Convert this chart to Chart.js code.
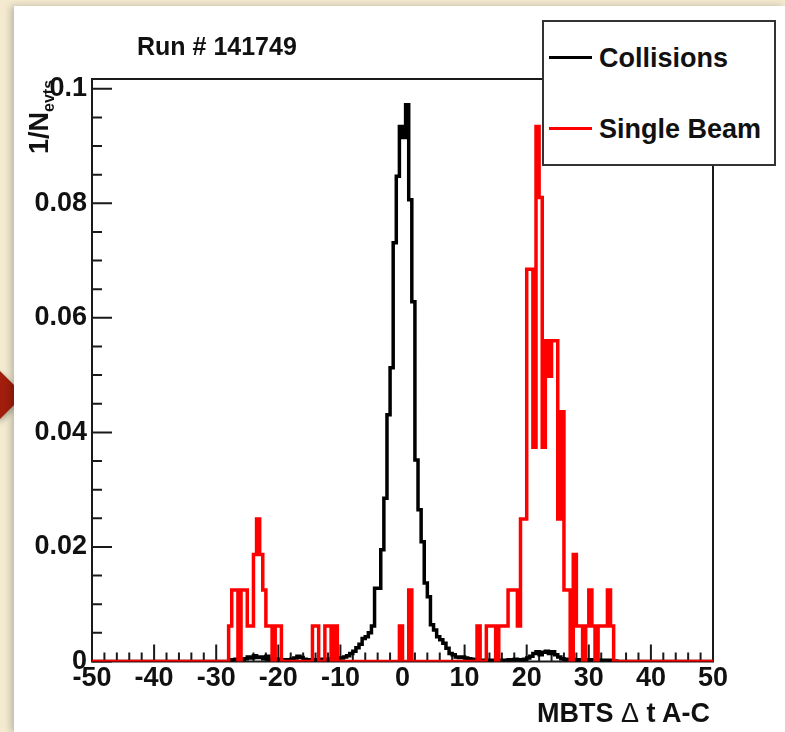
<!DOCTYPE html>
<html>
<head>
<meta charset="utf-8">
<script src="https://cdn.jsdelivr.net/npm/chart.js@4.4.1/dist/chart.umd.min.js"></script>
<style>
  html, body { margin: 0; padding: 0; }
  body {
    width: 785px; height: 732px; overflow: hidden; position: relative;
    background: #f3ead0;
    font-family: "Liberation Sans", Arial, Helvetica, sans-serif;
    font-weight: bold; color: #111;
  }
  #arrow {
    position: absolute; left: -17px; top: 378px; width: 34px; height: 34px;
    background: #a11d0c; transform: rotate(45deg);
    box-shadow: 2px 2px 6px rgba(0,0,0,0.35);
  }
  #panel {
    position: absolute; left: 14px; top: 6px; width: 771px; height: 726px;
    background: #fff; box-shadow: -3px 0 7px rgba(0,0,0,0.22);
  }
  #chart { position: absolute; left: 0; top: 0; }
  .txt { position: absolute; white-space: nowrap; line-height: 27px; }
  #title { left: 137px; top: 34px; font-size: 25px; line-height: 25px; }
  #xtitle { right: 75px; top: 700px; font-size: 27px; }
  #xtitle .sym { font-weight: normal; }
  #ytitle {
    left: 26px; top: 154px; font-size: 27px;
    transform: rotate(-90deg); transform-origin: left top;
  }
  #ytitle sub { font-size: 16px; vertical-align: -6px; }
  #legend {
    position: absolute; left: 542px; top: 20px; width: 230px; height: 142px;
    border: 2px solid #333; background: #fff;
  }
  .lline { position: absolute; left: 5px; width: 43px; height: 3px; }
  .ltext { position: absolute; left: 55px; font-size: 27px; line-height: 27px; }
</style>
</head>
<body>
<div id="arrow"></div>
<div id="panel"></div>
<canvas id="chart" width="785" height="732"></canvas>
<div class="txt" id="title">Run # 141749</div>
<div class="txt" id="ytitle">1/N<sub>evts</sub></div>
<div class="txt" id="xtitle">MBTS <span class="sym">&Delta;</span> t A-C</div>
<div id="legend">
  <div class="lline" style="top:34px;background:#000"></div>
  <div class="ltext" style="top:23px">Collisions</div>
  <div class="lline" style="top:105px;background:#ff0000"></div>
  <div class="ltext" style="top:94px">Single Beam</div>
</div>
<script>
// histogram binning: 200 bins of 0.5 from -50 to 50
const binLow = -50;
const binWidth = 0.5;

// 1/N_evts per bin, Collisions (rows of 20 bins = 10 units)
const collisions = [
  0,0,0,0,0,0,0,0,0,0,0,0,0,0,0,0,0,0,0,0,                                   // -50..-40
  0,0,0,0,0,0,0,0,0,0,0,0,0,0,0,0,0,0,0,0,                                   // -40..-30
  0,0,0,0,0,0.0003,0.0004,0.0002,0.0003,0.0005,0.0008,0.0006,0.001,0.0007,0.0008,0.0005,0.0009,0.0004,0.0003,0.0004,
  0.0003,0.0002,0.0003,0.0002,0.0004,0.0006,0.0009,0.0007,0.0004,0.0003,0.0002,0.0003,0.0002,0.0003,0.0004,0.0003,0.0004,0.0005,0.0004,0.0006,
  0.0006,0.0008,0.0010,0.0014,0.0018,0.0024,0.0030,0.0040,0.0043,0.0050,0.0062,0.0128,0.0128,0.0195,0.0285,0.0431,0.0513,0.0731,0.0847,0.0934,
  0.0915,0.0972,0.0806,0.0628,0.0352,0.0265,0.0209,0.0137,0.0113,0.0064,0.0055,0.0043,0.0038,0.0032,0.0023,0.0014,0.0012,0.0008,0.0007,0.0008,
  0.0006,0.0005,0.0004,0.0003,0.0002,0.0002,0.0001,0.0002,0.0001,0.0002,0.0001,0.0002,0.0001,0.0002,0.0003,0.0002,0.0004,0.0003,0.0002,0.0004,
  0.0006,0.0009,0.0014,0.0017,0.0012,0.0016,0.0018,0.0014,0.0017,0.0012,0.0008,0.0005,0.0004,0.0003,0.0002,0.0003,0.0002,0.0003,0.0002,0.0002,
  0.0003,0.0002,0.0002,0.0001,0.0002,0.0001,0.0002,0.0001,0.0001,0,0,0,0,0,0,0,0,0,0,0,
  0,0,0,0,0,0,0,0,0,0,0,0,0,0,0,0,0,0,0,0                                    // 40..50
];

// 1/N_evts per bin, Single Beam
const singleBeam = [
  0,0,0,0,0,0,0,0,0,0,0,0,0,0,0,0,0,0,0,0,
  0,0,0,0,0,0,0,0,0,0,0,0,0,0,0,0,0,0,0,0,
  0,0,0,0,0.0062,0.0125,0.0125,0,0.0125,0.0125,0.0062,0.0062,0.0187,0.0249,0.0187,0.0125,0.0062,0.0062,0,0.0062,
  0.0062,0,0,0,0,0,0,0,0,0,0,0.0062,0.0062,0,0,0.0062,0.0062,0,0.0062,0,
  0,0,0,0,0,0,0,0,0,0,0,0,0,0,0,0,0,0,0,0.0062,
  0,0,0.0125,0,0,0,0,0,0,0,0,0,0,0,0,0,0,0,0,0,
  0,0,0,0,0.0062,0,0,0.0062,0.0062,0.0062,0,0.0062,0.0062,0.0062,0.0125,0.0125,0.0125,0.0062,0.0249,0.0249,
  0.0685,0.0685,0.0374,0.0934,0.081,0.0374,0.056,0.0498,0.056,0.056,0.0249,0.0436,0.0125,0.0125,0,0.0187,0.0062,0.0062,0,0.0062,
  0.0125,0.0062,0,0.0062,0.0062,0.0062,0.0125,0.0062,0,0,0,0,0,0,0,0,0,0,0,0,
  0,0,0,0,0,0,0,0,0,0,0,0,0,0,0,0,0,0,0,0
];

const xTicks = [-50, -40, -30, -20, -10, 0, 10, 20, 30, 40, 50];
const yTicks = [0, 0.02, 0.04, 0.06, 0.08, 0.1];
const yTickLabels = ['0', '0.02', '0.04', '0.06', '0.08', '0.1'];
const yMax = 0.1017;

function toSteps(vals) {
  const pts = vals.map((v, i) => ({ x: binLow + i * binWidth, y: v }));
  pts.push({ x: binLow + vals.length * binWidth, y: vals[vals.length - 1] });
  return pts;
}

// frame and inside ticks, ROOT style
const framePlugin = {
  id: 'frame',
  beforeDatasetsDraw(chart) {
    const { ctx, chartArea: a, scales: { x, y } } = chart;
    ctx.save();
    ctx.strokeStyle = '#1a1a1a';
    ctx.lineWidth = 2;
    ctx.strokeRect(a.left, a.top, a.right - a.left, a.bottom - a.top);
    ctx.beginPath();
    for (let v = -50; v <= 50; v += 2) {
      const px = x.getPixelForValue(v);
      const len = v % 10 === 0 ? 17 : 9;
      ctx.moveTo(px, a.bottom);
      ctx.lineTo(px, a.bottom - len);
    }
    for (let k = 0; k <= 20; k++) {
      const v = k * 0.005;
      const py = y.getPixelForValue(v);
      const len = k % 4 === 0 ? 20 : 10;
      ctx.moveTo(a.left, py);
      ctx.lineTo(a.left + len, py);
    }
    ctx.stroke();
    ctx.restore();
  }
};

const tickFont = { family: '"Liberation Sans", Arial, sans-serif', size: 27, weight: 'bold' };

new Chart(document.getElementById('chart'), {
  type: 'line',
  data: {
    datasets: [
      {
        label: 'Collisions',
        data: toSteps(collisions),
        borderColor: '#000000',
        borderWidth: 3.5,
        stepped: true,
        pointRadius: 0,
        fill: false,
        order: 1
      },
      {
        label: 'Single Beam',
        data: toSteps(singleBeam),
        borderColor: '#ff0000',
        borderWidth: 3.5,
        stepped: true,
        pointRadius: 0,
        fill: false,
        order: 0
      }
    ]
  },
  options: {
    responsive: false,
    animation: false,
    devicePixelRatio: 1,
    layout: { padding: { left: 0, top: 79, right: 72, bottom: 0 } },
    plugins: {
      legend: { display: false },
      tooltip: { enabled: false }
    },
    scales: {
      x: {
        type: 'linear',
        min: -50,
        max: 50,
        grid: { display: false, drawTicks: false, tickLength: 0 },
        border: { display: false },
        afterFit: (s) => { s.height = 70.5; },
        afterBuildTicks: (s) => { s.ticks = xTicks.map(v => ({ value: v })); },
        ticks: { font: tickFont, color: '#111', padding: 1, maxRotation: 0, autoSkip: false,
                 callback: (v) => String(v) }
      },
      y: {
        type: 'linear',
        min: 0,
        max: yMax,
        grid: { display: false, drawTicks: false, tickLength: 0 },
        border: { display: false },
        afterFit: (s) => { s.width = 92; },
        afterBuildTicks: (s) => { s.ticks = yTicks.map(v => ({ value: v })); },
        ticks: { font: tickFont, color: '#111', padding: 5,
                 callback: (v) => yTickLabels[yTicks.indexOf(v)] }
      }
    }
  },
  plugins: [framePlugin]
});
</script>
</body>
</html>
